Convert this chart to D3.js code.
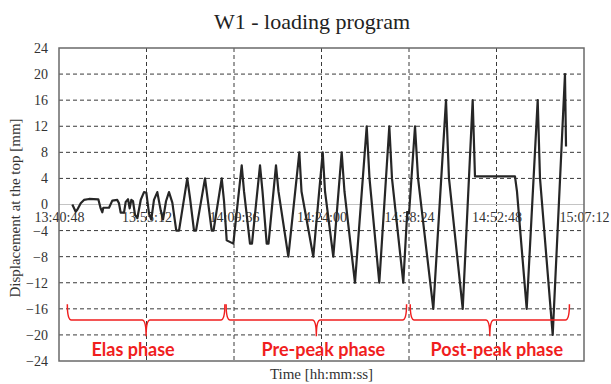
<!DOCTYPE html>
<html>
<head>
<meta charset="utf-8">
<script src="https://cdn.jsdelivr.net/npm/d3@7"></script>
<style>
  body { margin: 0; background: #fff; }
  svg { display: block; }
</style>
</head>
<body>
<div id="chart"></div>
<script>
// Data (minutes after 13:40:48, displacement in mm)
const startTime = "13:40:48";
const endTime = "15:07:12";
const xTickLabels = ["13:40:48", "13:55:12", "14:09:36", "14:24:00", "14:38:24", "14:52:48", "15:07:12"];
const yTicks = [-24, -20, -16, -12, -8, -4, 0, 4, 8, 12, 16, 20, 24];

const elapsedMin = [
  2.19, 2.75, 3.01, 3.57, 4.11, 4.94, 6.47, 6.86, 7.13, 7.29, 8.23, 8.77, 9.59, 9.87,
  10.15, 10.70, 10.98, 11.36, 11.63, 11.90, 12.18, 12.51, 12.89, 13.45, 13.99, 14.37,
  14.81, 15.19, 15.63, 16.18, 16.74, 17.12, 17.61, 18.10, 18.65, 19.30, 19.75,
  21.11, 21.56, 22.22, 22.55, 24.03, 24.44, 25.13, 25.43, 26.78, 27.16, 27.60, 28.69,
  30.07, 30.45, 31.43, 31.76, 33.08, 33.49, 34.18, 34.48, 35.71, 36.12, 37.74,
  39.55, 39.91, 41.85, 43.40, 43.78, 45.14, 46.52, 46.98, 48.71,
  50.64, 51.10, 52.71, 54.36, 54.80, 56.66, 57.32, 57.45,
  57.60, 58.59, 59.09, 61.60, 63.69, 64.18, 66.44, 68.08, 68.46, 75.04, 75.37,
  76.97, 78.78, 79.16, 81.25, 83.27, 83.44
];
const displacement = [
  0, -1.1, -0.8, 0.2, 0.7, 0.85, 0.8, -0.6, -1.2, -0.5, -0.5, 0.6, 0.7, 0.2,
  -1.25, -1.25, 0.4, 0.8, -0.6, 0.7, 0.5, -1.6, -2.1, 0.7, 1.9, 1.8,
  -1.35, -2.3, 0.7, 1.9, -0.9, -2.3, 0.5, 1.9, 0.3, -4, -4,
  4, 1, -4, -4, 4, 1, -4, -4, 4, 0.5, -5.5, -6,
  6, 2, -6, -6, 6, 2, -6, -6, 6, 2, -8,
  8, 2, -8, 8, 2, -8, 8, 2, -12,
  12, 4, -12, 12, 4, -12, -1, null,
  -1.5, 12, 4, -16, 16, 4, -16, 16, 4.3, 4.3, 2,
  -16, 16, 4, -20, 20, 8.9
];

const phaseNames = ["Elas phase", "Pre-peak phase", "Post-peak phase"];
const phaseStartMin = [1.37, 27.5, 57.8];
const phaseEndMin = [27.3, 57.2, 84.0];

// Dimensions
const width = 611;
const height = 384;
const margin = { top: 48, right: 27, bottom: 23, left: 59 };
const innerWidth = width - margin.left - margin.right;
const innerHeight = height - margin.top - margin.bottom;

const parseTime = d3.timeParse("%H:%M:%S");
const t0 = parseTime(startTime);
const toDate = m => new Date(t0.getTime() + m * 60000);

const data = elapsedMin.map((m, i) => ({ date: toDate(m), value: displacement[i] }));

const svg = d3.select("#chart")
  .append("svg")
    .attr("width", width)
    .attr("height", height);

const g = svg.append("g")
    .attr("transform", `translate(${margin.left}, ${margin.top})`);

const xScale = d3.scaleTime()
  .domain([t0, parseTime(endTime)])
  .range([0, innerWidth]);
const yScale = d3.scaleLinear()
  .domain([-24, 24])
  .range([innerHeight, 0]);

const serif = "'Liberation Serif', 'Times New Roman', serif";

// Grid
g.append("g")
  .selectAll("line")
  .data(yTicks.filter(v => v !== 0 && Math.abs(v) !== 24))
  .join("line")
    .attr("x1", 0)
    .attr("x2", innerWidth)
    .attr("y1", d => yScale(d))
    .attr("y2", d => yScale(d))
    .attr("stroke", "#3a3a3a")
    .attr("stroke-width", 1)
    .attr("stroke-dasharray", "4,3");

const xTicks = xTickLabels.map(parseTime);
g.append("g")
  .selectAll("line")
  .data(xTicks.slice(1, -1))
  .join("line")
    .attr("x1", d => xScale(d))
    .attr("x2", d => xScale(d))
    .attr("y1", 0)
    .attr("y2", innerHeight)
    .attr("stroke", "#3a3a3a")
    .attr("stroke-width", 1)
    .attr("stroke-dasharray", "4,3");

// zero line
g.append("line")
  .attr("x1", 0)
  .attr("x2", innerWidth)
  .attr("y1", yScale(0))
  .attr("y2", yScale(0))
  .attr("stroke", "#c4c4c4")
  .attr("stroke-width", 1.2);

// Axes
const leftAxis = d3.axisLeft(yScale)
  .tickValues(yTicks)
  .tickSize(0)
  .tickPadding(11);
g.append("g")
    .attr("class", "axis-y")
    .call(leftAxis)
    .call(a => a.select(".domain").remove())
    .selectAll("text")
      .attr("font-family", serif)
      .attr("font-size", 14)
      .attr("fill", "#333");

const bottomAxis = d3.axisBottom(xScale)
  .tickValues(xTicks)
  .tickFormat(d3.timeFormat("%H:%M:%S"))
  .tickSize(0)
  .tickPadding(8);
g.append("g")
    .attr("class", "axis-x")
    .attr("transform", `translate(0, ${yScale(0)})`)
    .call(bottomAxis)
    .call(a => a.select(".domain").remove())
    .selectAll("text")
      .attr("font-family", serif)
      .attr("font-size", 14)
      .attr("fill", "#333");

// Frame
g.append("rect")
  .attr("width", innerWidth)
  .attr("height", innerHeight)
  .attr("fill", "none")
  .attr("stroke", "#6a6a6a")
  .attr("stroke-width", 1.5);

// Loading line
const line = d3.line()
  .defined(d => d.value !== null)
  .x(d => xScale(d.date))
  .y(d => yScale(d.value));
g.append("path")
  .datum(data)
  .attr("d", line)
  .attr("fill", "none")
  .attr("stroke", "#262626")
  .attr("stroke-width", 2.2)
  .attr("stroke-linejoin", "round");

// Phase braces
const red = "#f01e1e";
const yTip = yScale(-15.3);
const yBar = yScale(-17.7);
const yNotch = yScale(-20.2);
const r = 4;
const labelShift = [-13, 7, 7];
phaseNames.forEach((name, i) => {
  const x1 = xScale(toDate(phaseStartMin[i]));
  const x2 = xScale(toDate(phaseEndMin[i]));
  const xc = (x1 + x2) / 2;
  const p = d3.path();
  p.moveTo(x1, yTip);
  p.quadraticCurveTo(x1, yBar, x1 + r, yBar);
  p.lineTo(xc - r, yBar);
  p.quadraticCurveTo(xc, yBar, xc, yNotch);
  p.quadraticCurveTo(xc, yBar, xc + r, yBar);
  p.lineTo(x2 - r, yBar);
  p.quadraticCurveTo(x2, yBar, x2, yTip);
  g.append("path")
    .attr("d", p.toString())
    .attr("fill", "none")
    .attr("stroke", red)
    .attr("stroke-width", 1.5);
  g.append("text")
    .attr("x", xc + labelShift[i])
    .attr("y", 307.5)
    .attr("text-anchor", "middle")
    .attr("font-family", "Lato, 'Open Sans', sans-serif")
    .attr("font-weight", 700)
    .attr("font-size", 18)
    .attr("fill", red)
    .text(name);
});

// Titles
svg.append("text")
  .attr("x", 312)
  .attr("y", 29)
  .attr("text-anchor", "middle")
  .attr("font-family", serif)
  .attr("font-size", 22)
  .attr("fill", "#222")
  .text("W1 - loading program");

svg.append("text")
  .attr("x", margin.left + innerWidth / 2)
  .attr("y", 379)
  .attr("text-anchor", "middle")
  .attr("font-family", serif)
  .attr("font-size", 15)
  .attr("fill", "#333")
  .text("Time [hh:mm:ss]");

svg.append("text")
  .attr("transform", `translate(20, 208) rotate(-90)`)
  .attr("text-anchor", "middle")
  .attr("font-family", serif)
  .attr("font-size", 15)
  .attr("fill", "#333")
  .text("Displacement at the top [mm]");
</script>
</body>
</html>
